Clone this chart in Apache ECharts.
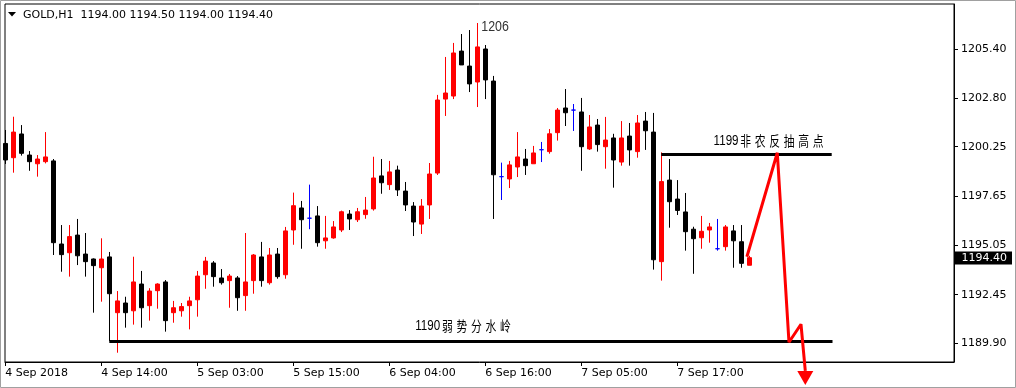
<!DOCTYPE html>
<html><head><meta charset="utf-8">
<script src="https://cdn.jsdelivr.net/npm/echarts@6/dist/echarts.min.js"></script>
<style>html,body{margin:0;padding:0;background:#fff}#c{width:1016px;height:388px}</style>
</head><body><div id="c"></div>
<script>
// ---------- data ----------
const symbolName = 'GOLD,H1';
const tickBars   = [0, 12, 24, 36, 48, 60, 72, 84];
const tickLabels = ['4 Sep 2018','4 Sep 14:00','5 Sep 03:00','5 Sep 15:00','6 Sep 04:00','6 Sep 16:00','7 Sep 05:00','7 Sep 17:00'];
const priceTicks = [1189.90, 1192.45, 1195.05, 1197.65, 1200.25, 1202.80, 1205.40];

const opens  = [1200.42,1199.67,1200.92,1199.81,1199.35,1199.46,1199.50,1195.12,1194.66,1195.59,
                1194.59,1194.33,1193.87,1194.44,1191.50,1192.01,1191.60,1193.01,1191.87,1192.66,
                1193.12,1191.50,1191.60,1191.87,1192.18,1193.50,1194.12,1193.33,1193.19,1193.33,
                1192.40,1193.19,1194.44,1193.08,1194.59,1193.50,1195.86,1197.02,1196.48,1196.60,
                1195.29,1195.44,1195.86,1196.70,1196.40,1196.67,1196.97,1198.71,1198.25,1199.02,
                1197.91,1197.12,1196.17,1197.18,1198.86,1202.76,1202.92,1205.29,1204.50,1203.66,
                1205.40,1203.71,1198.67,1198.55,1199.18,1199.60,1199.35,1200.09,1199.99,1200.99,
                1202.29,1202.18,1202.08,1200.13,1201.39,1200.25,1200.71,1199.44,1200.81,1199.99,
                1201.60,1201.02,1194.19,1198.49,1197.49,1196.81,1195.90,1195.45,1195.86,1194.87,
                1194.98,1195.81,1195.24,1194.00];
const closes = [1199.55,1201.02,1199.90,1199.46,1199.60,1199.71,1195.19,1194.56,1195.51,1194.50,
                1194.19,1193.98,1194.33,1192.50,1192.12,1191.50,1193.12,1191.76,1192.64,1193.01,
                1191.08,1191.76,1191.82,1192.12,1193.43,1194.22,1193.40,1193.08,1193.43,1192.29,
                1193.12,1194.54,1193.19,1194.54,1193.40,1195.81,1197.14,1196.40,1196.48,1195.19,
                1195.44,1196.02,1196.82,1196.44,1196.82,1196.91,1198.60,1198.35,1198.92,1197.97,
                1197.18,1196.28,1197.12,1198.81,1202.71,1203.08,1205.19,1204.56,1203.56,1205.51,
                1203.77,1198.77,1198.67,1199.29,1199.71,1199.25,1199.92,1200.09,1200.93,1202.18,
                1202.04,1202.18,1200.25,1201.29,1200.36,1200.60,1199.55,1200.71,1200.08,1201.50,
                1201.09,1194.29,1198.41,1197.35,1196.89,1195.77,1195.40,1195.79,1196.02,1194.87,
                1196.02,1195.29,1194.10,1194.40];
const lows   = [1199.34,1198.88,1199.78,1198.98,1198.67,1199.37,1194.54,1193.66,1193.40,1194.01,
                1193.40,1191.50,1192.08,1190.00,1189.39,1190.71,1190.87,1190.71,1191.08,1191.71,
                1190.50,1190.97,1191.29,1190.62,1191.29,1192.76,1192.87,1192.98,1191.76,1191.60,
                1191.60,1192.50,1192.87,1192.98,1193.29,1193.29,1195.08,1194.87,1195.90,1194.98,
                1194.87,1195.40,1195.75,1195.86,1196.28,1196.45,1196.88,1197.77,1197.97,1197.65,
                1196.86,1195.54,1195.65,1196.44,1198.76,1201.87,1202.76,1204.56,1203.13,1202.34,
                1202.76,1196.44,1197.44,1198.07,1198.65,1198.76,1199.35,1199.44,1199.88,1200.57,
                1201.34,1201.08,1198.98,1200.08,1199.99,1199.09,1198.09,1199.25,1199.25,1199.67,
                1200.08,1193.77,1193.19,1195.98,1196.65,1194.77,1193.55,1194.87,1195.19,1194.77,
                1194.77,1193.87,1193.87,1194.00];
const highs  = [1201.13,1201.83,1201.39,1200.02,1199.81,1201.02,1199.60,1196.12,1196.12,1196.44,
                1195.70,1194.36,1195.42,1194.70,1192.64,1192.34,1194.45,1193.70,1192.79,1193.05,
                1193.22,1192.12,1192.01,1192.34,1193.70,1194.44,1194.22,1193.80,1193.54,1193.43,
                1195.70,1194.59,1195.23,1194.91,1194.91,1196.02,1197.83,1197.39,1198.25,1197.12,
                1196.60,1196.33,1196.88,1196.91,1197.02,1197.60,1199.72,1199.60,1199.50,1199.25,
                1198.39,1197.33,1197.49,1199.39,1202.98,1204.98,1205.72,1206.19,1206.40,1206.77,
                1205.61,1203.98,1199.41,1199.50,1201.02,1200.13,1200.29,1200.50,1201.18,1202.29,
                1203.29,1202.50,1202.82,1201.92,1201.71,1201.82,1200.93,1201.60,1201.50,1201.92,
                1202.08,1202.03,1199.95,1199.60,1198.49,1197.81,1196.03,1196.60,1196.23,1196.44,
                1196.12,1196.12,1196.12,1194.50];

const levelNames  = ['1190弱势分水岭', '1199非农反抽高点'];
const levelPrices = [1190.00, 1199.85];
const levelFrom   = [13, 82];
const levelTo     = [103.4, 103.3];

const projection = [[92.7, 1194.45], [96.5, 1199.93], [97.96, 1189.94], [99.46, 1190.89], [100, 1188.43]];
const peakText = '1206';
const peakBar = 59;

// ---------- chart ----------
const FONT = 'DejaVu Sans';
const chart = echarts.init(document.getElementById('c'), null, {renderer: 'canvas'});
const last = opens.length - 1;
const BLUE = '#0000ff';
const candles = opens.map((o, i) => {
  const item = {value: [i, o, closes[i], lows[i], highs[i]]};
  if (o === closes[i]) item.itemStyle = {color: BLUE, color0: BLUE, borderColor: BLUE, borderColor0: BLUE, borderColorDoji: BLUE};
  return item;
});

const option = {
  animation: false,
  backgroundColor: '#fff',
  grid: {left: 5, top: 4, right: 62, bottom: 26, show: true, borderColor: '#000', borderWidth: 1, backgroundColor: '#fff'},
  xAxis: {
    type: 'value', min: -0.0375, max: 118.5875,
    splitLine: {show: false},
    axisLine: {show: true, onZero: false, lineStyle: {color: '#000', width: 1}},
    axisTick: {show: true, customValues: tickBars, length: 4, lineStyle: {color: '#000'}},
    axisLabel: {customValues: tickBars, formatter: v => tickLabels[tickBars.indexOf(Math.round(v))] || '',
      align: 'left', margin: 6, color: '#000', fontFamily: FONT, fontSize: 11}
  },
  yAxis: {
    type: 'value', position: 'right', min: 1188.90, max: 1207.772,
    splitLine: {show: false},
    axisLine: {show: true, onZero: false, lineStyle: {color: '#000', width: 1}},
    axisTick: {show: true, customValues: priceTicks, length: 4, lineStyle: {color: '#000'}},
    axisLabel: {customValues: priceTicks, formatter: v => v.toFixed(2), margin: 7, color: '#000', fontFamily: FONT, fontSize: 11}
  },
  series: [
    {
      type: 'candlestick', data: candles, barWidth: 4,
      itemStyle: {color: '#ff0000', color0: '#000000', borderColor: '#ff0000', borderColor0: '#000000', borderColorDoji: BLUE, borderWidth: 1},
      markLine: {
        silent: true, symbol: ['none', 'none'], animation: false,
        data: levelPrices.map((p, i) => [
          {coord: [levelFrom[i], p], lineStyle: {color: '#000', width: 3, type: 'solid'}, label: {show: false}},
          {coord: [levelTo[i], p]}
        ])
      }
    },
    {
      type: 'line', clip: false, z: 5, symbol: 'none', silent: true,
      lineStyle: {color: '#ff0000', width: 3},
      itemStyle: {color: '#ff0000'},
      data: projection.map((p, i) => i === projection.length - 1
        ? {value: p, symbol: 'triangle', symbolSize: [16, 14], symbolRotate: 180, symbolOffset: [0, 7], itemStyle: {color: '#ff0000'}}
        : {value: p})
    }
  ]
};
chart.setOption(option);

// ---------- annotations (anchored to data coordinates) ----------
const px = p => chart.convertToPixel({gridIndex: 0}, p);
const SX = 0.8;
const richStyles = {
  d: {fontFamily: 'Liberation Sans', fontSize: 14.5, color: '#222'},
  c: {fontFamily: 'Noto Sans CJK SC', fontSize: 13.5, color: '#222', width: 18.1, align: 'center'}
};
const toRich = s => s.replace(/([0-9.]+)/g, '{d|$1}').replace(/([\u4e00-\u9fff])/g, '{c|$1}');
const labelDx = [-7, 23];
const labelDy = [-15, -13];
const graphics = [
  {type: 'rect', shape: {x: 0.5, y: 0.5, width: 1015, height: 387}, style: {fill: 'none', stroke: '#a0a0a0', lineWidth: 1}, silent: true},
  {type: 'polygon', shape: {points: [[8, 12], [16, 12], [12, 16.5]]}, style: {fill: '#000'}, silent: true},
  {type: 'text', x: 23, y: 15, silent: true, style: {
    text: symbolName + '  ' + [opens[last], highs[last], lows[last], closes[last]].map(v => v.toFixed(2)).join(' '),
    fontFamily: FONT, fontSize: 11, fill: '#000', verticalAlign: 'middle', align: 'left'}}
];
// current price tag on the price axis
const rightEdge = px([option.xAxis.max, closes[last]]);
graphics.push({type: 'rect', z: 100, silent: true, shape: {x: Math.round(rightEdge[0]) + 1, y: Math.round(rightEdge[1]) - 6.5, width: 57, height: 13}, style: {fill: '#000'}});
graphics.push({type: 'text', z: 101, silent: true, x: Math.round(rightEdge[0]) + 7.5, y: Math.round(rightEdge[1]), style: {
  text: closes[last].toFixed(2), fontFamily: FONT, fontSize: 11, fill: '#fff', align: 'left', verticalAlign: 'middle'}});

const pk = px([peakBar, highs[peakBar]]);
graphics.push({type: 'text', x: pk[0] + 4, y: pk[1] + 4, scaleX: SX, silent: true, style: {
  text: peakText, fontFamily: 'Liberation Sans', fontSize: 15.5, fill: '#333', align: 'left', verticalAlign: 'middle'}});
levelNames.forEach((name, i) => {
  const a = px([levelFrom[i], levelPrices[i]]);
  const b = px([levelTo[i], levelPrices[i]]);
  graphics.push({type: 'text', x: (a[0] + b[0]) / 2 + labelDx[i], y: a[1] + labelDy[i], scaleX: SX, silent: true, style: {
    text: toRich(name), rich: richStyles, align: 'center', verticalAlign: 'middle'}});
});
chart.setOption({graphic: graphics});
</script>
</body></html>
